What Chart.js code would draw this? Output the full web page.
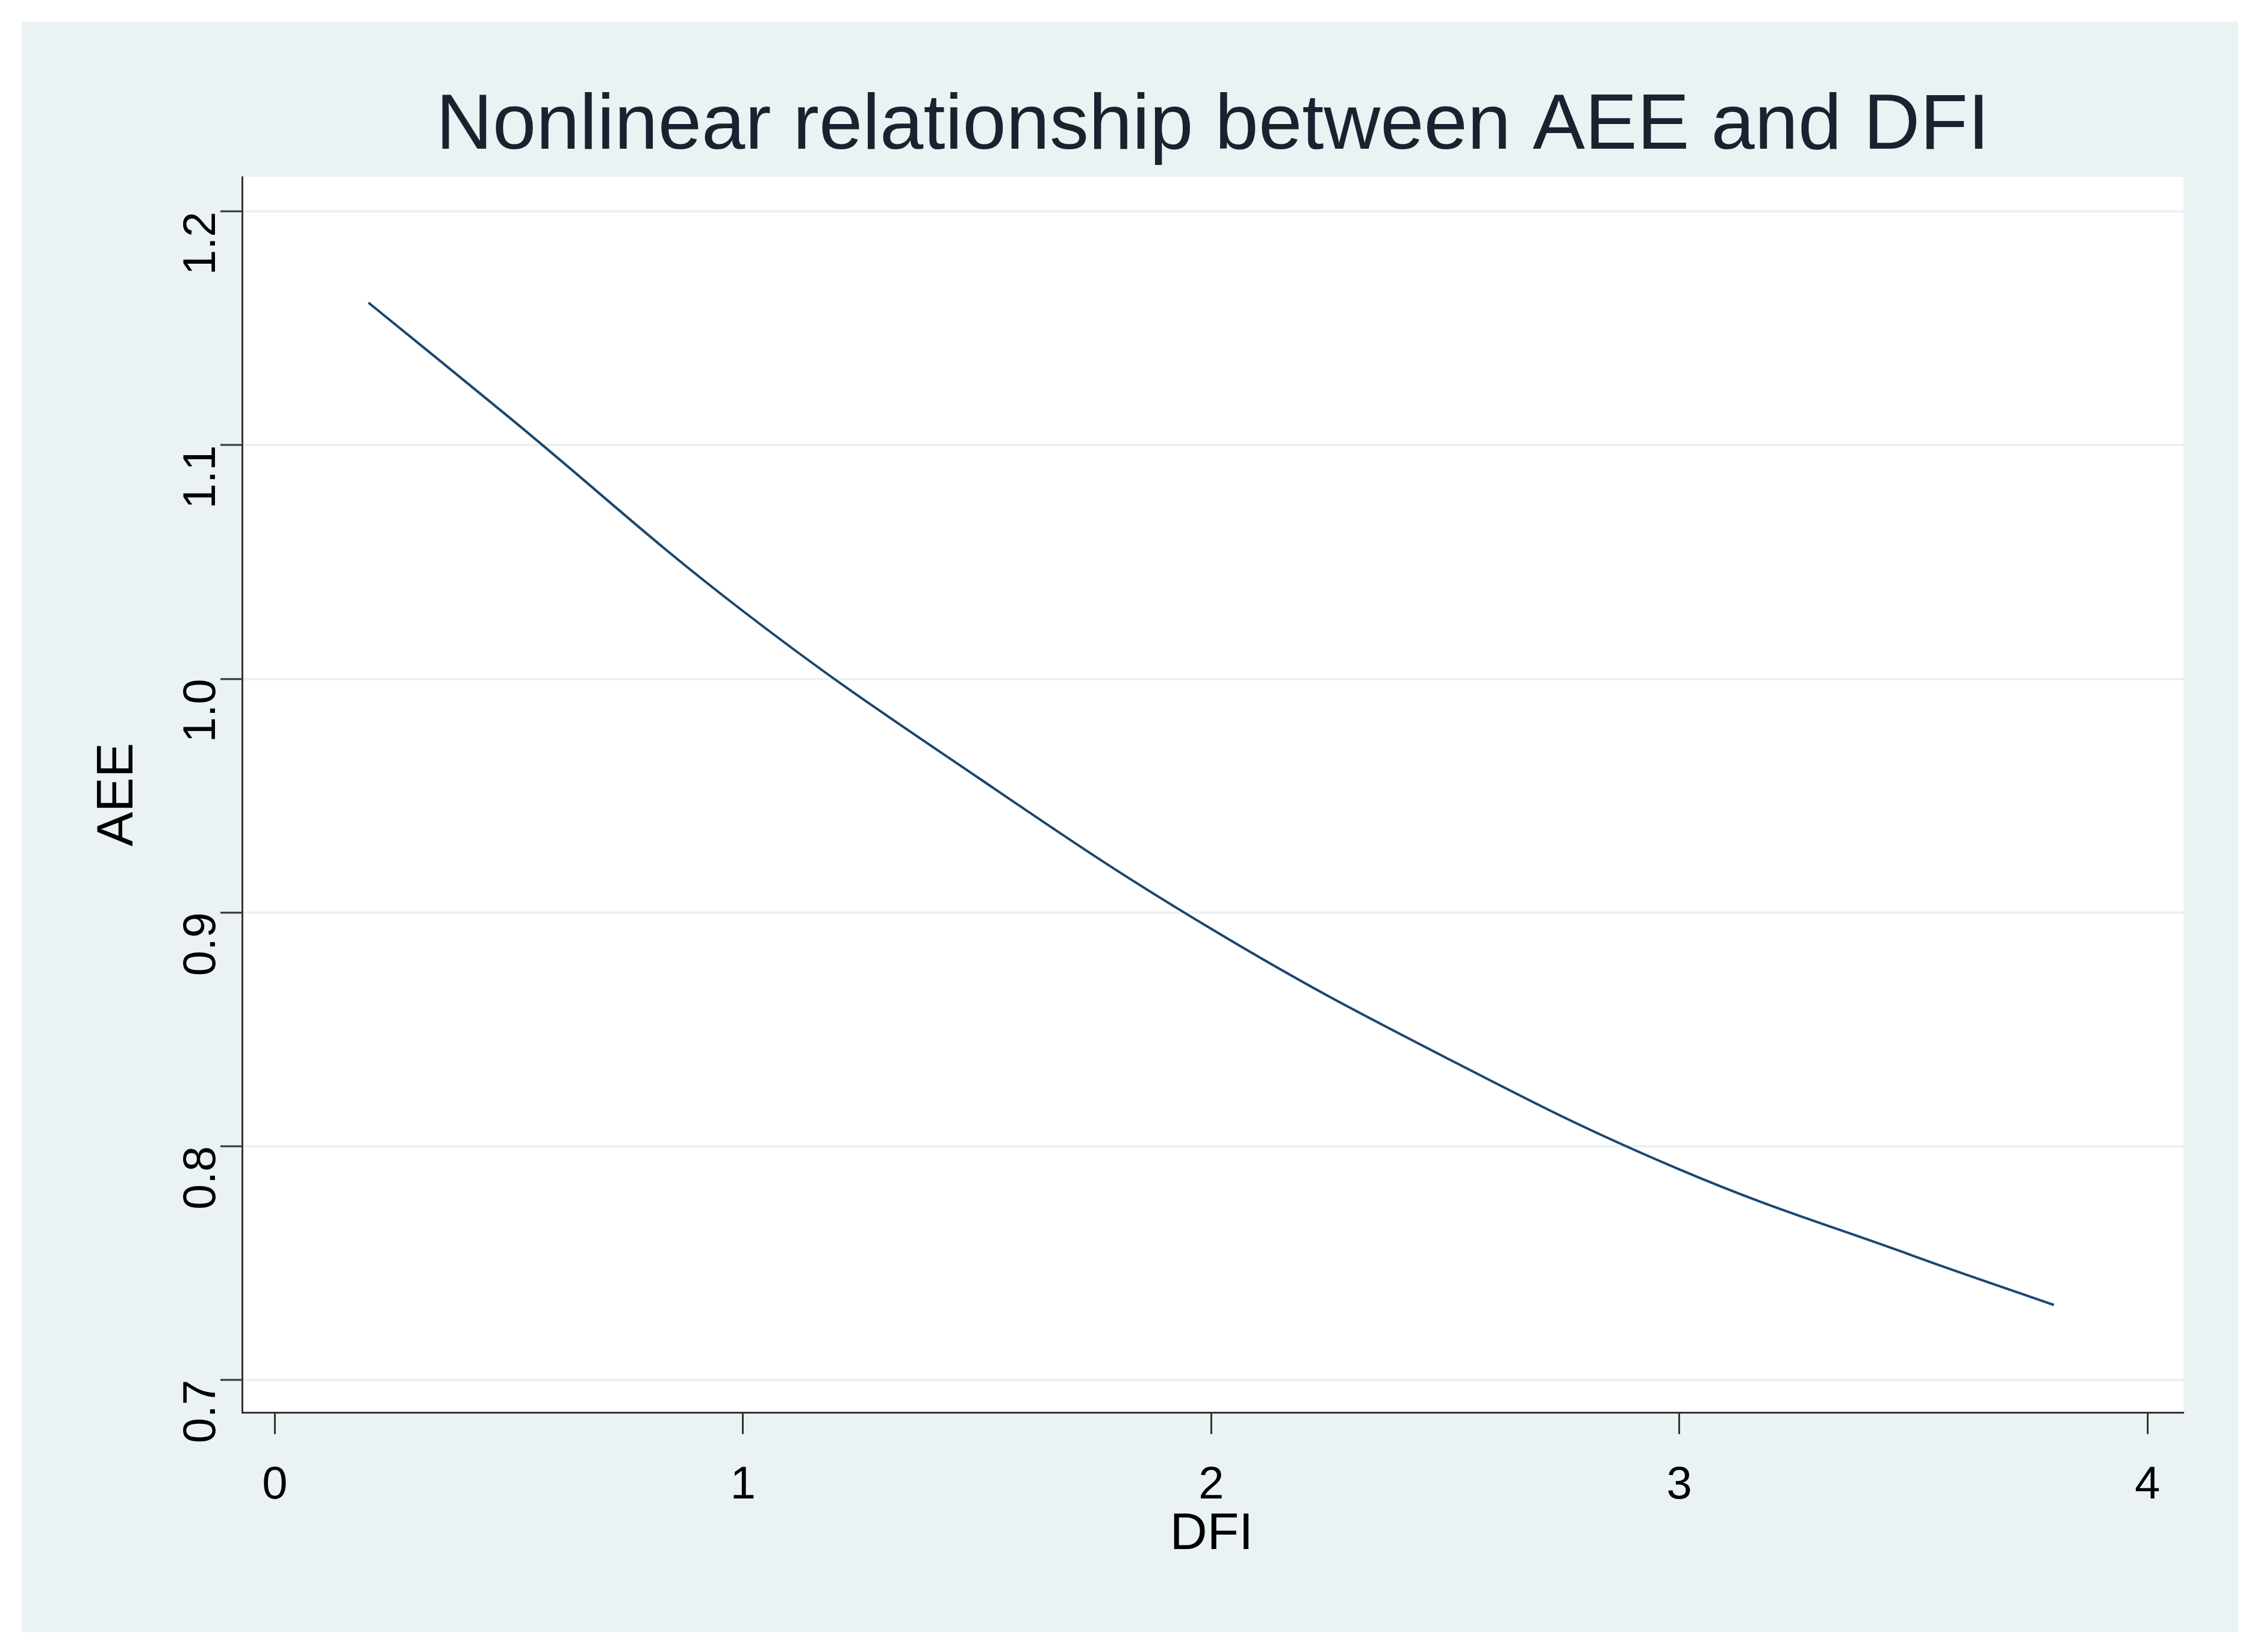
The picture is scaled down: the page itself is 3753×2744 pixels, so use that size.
<!DOCTYPE html>
<html>
<head>
<meta charset="utf-8">
<script src="https://cdn.jsdelivr.net/npm/chart.js@4"></script>
<style>
  body { margin: 0; background: #fff; }
  #wrap { width: 3753px; height: 2744px; }
</style>
</head>
<body>
<div id="wrap"><canvas id="c"></canvas></div>
<script>
// values
const dfi = [0.2, 0.5, 1.0, 1.5, 2.0, 2.5, 3.0, 3.5, 3.8];
const aee = [1.161, 1.112, 1.029, 0.958, 0.893, 0.838, 0.790, 0.753, 0.732];
const xTicks = [0, 1, 2, 3, 4];
const yTicks = [0.7, 0.8, 0.9, 1.0, 1.1, 1.2];

const dark = '#333333';
const font = 'Arial, "Liberation Sans", sans-serif';

// background panel, title and axis titles
const frame = {
  id: 'frame',
  beforeDraw(chart) {
    const c = chart.ctx;
    c.save();
    c.fillStyle = '#eaf2f3';
    c.fillRect(36, 36, 3681, 2675);
    const a = chart.chartArea;
    c.fillStyle = '#ffffff';
    c.fillRect(a.left, a.top, a.right - a.left, a.bottom - a.top);
    c.restore();
  },
  afterDraw(chart) {
    const c = chart.ctx;
    const a = chart.chartArea;
    c.save();
    c.fillStyle = '#1a2230';
    c.textAlign = 'center';
    c.textBaseline = 'middle';
    c.font = '130px ' + font;
    c.fillText('Nonlinear relationship between AEE and DFI', (a.left + a.right) / 2, 211);
    c.fillStyle = '#000';
    c.font = '86px ' + font;
    c.fillText('DFI', 2012, 2549);
    c.translate(196, 1320);
    c.rotate(-Math.PI / 2);
    c.fillText('AEE', 0, 0);
    c.restore();
  }
};

new Chart(document.getElementById('c'), {
  type: 'line',
  data: {
    datasets: [{
      data: dfi.map((x, i) => ({ x: x, y: aee[i] })),
      borderColor: '#1a476f',
      borderWidth: 4,
      pointRadius: 0,
      fill: false,
      tension: 0.4
    }]
  },
  options: {
    responsive: true,
    maintainAspectRatio: false,
    devicePixelRatio: 1,
    animation: false,
    layout: { padding: { left: 0, right: 127, top: 294, bottom: 0 } },
    plugins: { legend: { display: false }, tooltip: { enabled: false } },
    scales: {
      x: {
        type: 'linear',
        min: -0.07,
        max: 4.077,
        afterBuildTicks: s => { s.ticks = xTicks.map(v => ({ value: v })); },
        afterFit: s => { s.height = 398; },
        grid: { drawOnChartArea: false, tickLength: 36, tickWidth: 3, color: dark },
        border: { color: dark, width: 3 },
        ticks: { color: '#000', padding: 40, font: { size: 76, family: font }, maxRotation: 0 }
      },
      y: {
        min: 0.686,
        max: 1.2148,
        afterBuildTicks: s => { s.ticks = yTicks.map(v => ({ value: v })); },
        afterFit: s => { s.width = 402; },
        grid: { color: '#eaf2f3', lineWidth: 4, tickLength: 36, tickWidth: 3, tickColor: dark },
        border: { color: dark, width: 3 },
        ticks: {
          color: '#000', padding: 30, minRotation: 90, maxRotation: 90,
          font: { size: 76, family: font },
          callback: v => v.toFixed(1)
        }
      }
    }
  },
  plugins: [frame]
});
</script>
</body>
</html>
